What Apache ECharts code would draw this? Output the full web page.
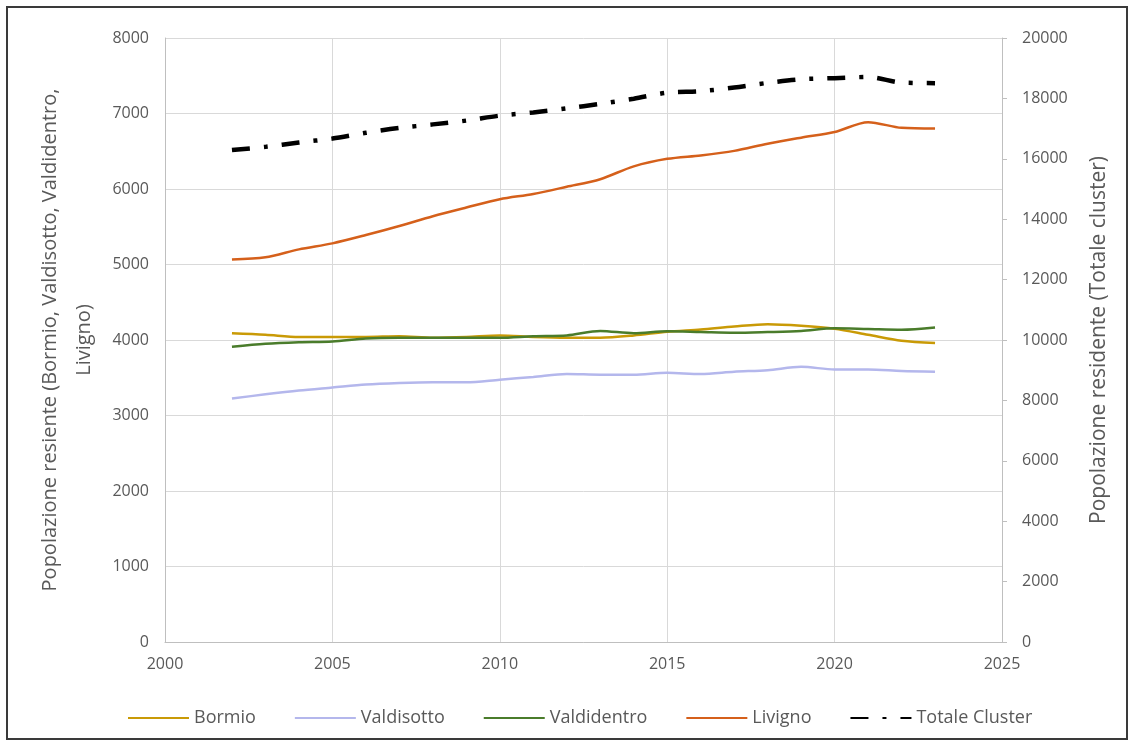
<!DOCTYPE html>
<html>
<head>
<meta charset="utf-8">
<script src="https://cdn.jsdelivr.net/npm/echarts@6/dist/echarts.min.js"></script>
<style>
html,body{margin:0;padding:0;background:#fff;}
#c{width:1134px;height:745px;}
</style>
</head>
<body>
<div id="c"></div>
<script>
const years = [2002,2003,2004,2005,2006,2007,2008,2009,2010,2011,2012,2013,2014,2015,2016,2017,2018,2019,2020,2021,2022,2023];
const bormio = [4090,4070,4040,4040,4040,4050,4030,4040,4060,4040,4030,4030,4060,4110,4140,4180,4210,4190,4150,4070,3990,3960];
const valdisotto = [3225,3280,3330,3370,3410,3430,3440,3440,3475,3510,3550,3540,3540,3565,3550,3580,3600,3645,3610,3610,3590,3580];
const valdidentro = [3910,3950,3970,3980,4020,4030,4030,4030,4030,4050,4060,4120,4090,4115,4105,4095,4105,4120,4155,4145,4135,4165];
const livigno = [5065,5095,5200,5280,5390,5510,5640,5755,5865,5935,6030,6130,6300,6400,6445,6505,6600,6680,6755,6885,6810,6800];
const totale = [16290,16395,16540,16670,16860,17020,17140,17265,17430,17535,17670,17820,17990,18190,18240,18360,18515,18635,18670,18710,18525,18505];
const xTicks = [2000,2005,2010,2015,2020,2025];
const leftTicks = [0,1000,2000,3000,4000,5000,6000,7000,8000];
const rightTicks = [0,2000,4000,6000,8000,10000,12000,14000,16000,18000,20000];

const pair = arr => years.map((y,i)=>[y,arr[i]]);
const FONT = '"Open Sans", "Liberation Sans", sans-serif';
const chart = echarts.init(document.getElementById('c'), null, {renderer:'canvas'});
const lineSeries = (name, data, color) => ({
  name, type:'line', data:pair(data), yAxisIndex:0, showSymbol:false, symbol:'none',
  smooth:0.3, lineStyle:{color, width:2.5}, itemStyle:{color}, z:3
});
chart.setOption({
  animation:false,
  backgroundColor:'#fff',
  textStyle:{fontFamily:FONT},
  graphic:[{type:'rect', shape:{x:7,y:7,width:1120,height:732}, style:{fill:'none', stroke:'#3a3a3a', lineWidth:2}, z:-1}],
  grid:{left:165, right:132, top:38, bottom:103},
  legend:{
    top:704, left:122, itemWidth:61, itemHeight:14, itemGap:38,
    itemStyle:{opacity:0},
    textStyle:{fontFamily:FONT, fontSize:18, color:'#595959'},
    data:['Bormio','Valdisotto','Valdidentro','Livigno','Totale Cluster']
  },
  xAxis:{
    type:'value', min:2000, max:2025, interval:5,
    axisLine:{show:true, lineStyle:{color:'#BFBFBF', width:1}},
    axisTick:{show:false},
    axisLabel:{color:'#595959', fontSize:16, fontFamily:FONT, margin:14,
      formatter:v=>xTicks.includes(v)?String(v):''},
    splitLine:{show:true, lineStyle:{color:'#D9D9D9', width:1}}
  },
  yAxis:[{
    type:'value', min:0, max:8000, interval:1000, position:'left',
    name:'Popolazione resiente (Bormio, Valdisotto, Valdidentro,\nLivigno)',
    nameLocation:'middle', nameGap:62, nameRotate:90,
    nameTextStyle:{color:'#595959', fontSize:20, fontFamily:FONT, lineHeight:34},
    axisLine:{show:true, lineStyle:{color:'#BFBFBF'}},
    axisTick:{show:false},
    axisLabel:{color:'#595959', fontSize:16, fontFamily:FONT, margin:16,
      formatter:v=>leftTicks.includes(v)?String(v):''},
    splitLine:{show:true, lineStyle:{color:'#D9D9D9', width:1}}
  },{
    type:'value', min:0, max:20000, interval:2000, position:'right',
    name:'Popolazione residente (Totale cluster)',
    nameLocation:'middle', nameGap:87, nameRotate:90,
    nameTextStyle:{color:'#595959', fontSize:21, fontFamily:FONT},
    axisLine:{show:true, lineStyle:{color:'#BFBFBF'}},
    axisTick:{show:true, inside:false, length:5, lineStyle:{color:'#BFBFBF'}},
    axisLabel:{color:'#595959', fontSize:16, fontFamily:FONT, margin:20,
      formatter:v=>rightTicks.includes(v)?String(v):''},
    splitLine:{show:false}
  }],
  series:[
    lineSeries('Bormio', bormio, '#C99A06'),
    lineSeries('Valdisotto', valdisotto, '#B4B7EC'),
    lineSeries('Valdidentro', valdidentro, '#4A7C2B'),
    lineSeries('Livigno', livigno, '#D5601B'),
    {
      name:'Totale Cluster', type:'line', data:pair(totale), yAxisIndex:1,
      showSymbol:false, symbol:'none', smooth:0.3, z:4,
      lineStyle:{color:'#000', width:4.5, type:[18,14,4,14], cap:'butt'},
      itemStyle:{color:'#000'}
    }
  ]
});
</script>
</body>
</html>
